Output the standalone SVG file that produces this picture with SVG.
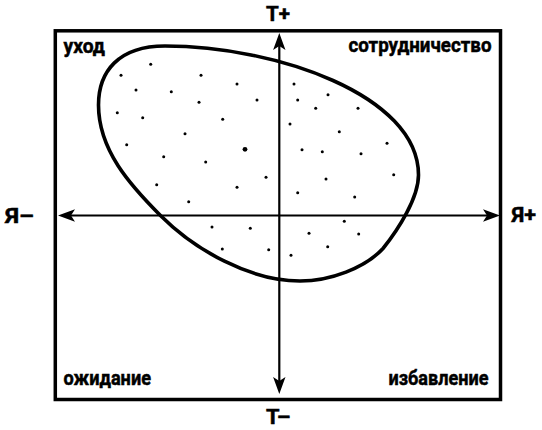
<svg xmlns="http://www.w3.org/2000/svg" width="542" height="430" viewBox="0 0 542 430">
  <style>
    .lbl { font-family: Roboto, "Liberation Sans", "DejaVu Sans", sans-serif; font-weight: 700; font-size: 21px; fill: #000; stroke: #000; stroke-width: 0.5; }
    .frame { fill: none; stroke: #000; stroke-width: 3.5; }
    .axis { fill: none; stroke: #000; stroke-width: 2.2; }
    .egg { fill: none; stroke: #000; stroke-width: 3.6; }
    .dot { fill: #000; }
  </style>
  <defs>
    <marker id="arrow" markerUnits="userSpaceOnUse" markerWidth="30" markerHeight="20" refX="0" refY="0" viewBox="-10 -10 30 20" orient="auto-start-reverse" overflow="visible">
      <path d="M10,0 L-7,-6.2 L-3,0 L-7,6.2 Z" fill="#000"/>
    </marker>
  </defs>
  <rect width="542" height="430" fill="#fff"/>

  <g id="frame">
    <rect class="frame" x="55.3" y="30.8" width="445.2" height="368.7"/>
  </g>

  <g id="connectors">
    <line class="axis" x1="68" y1="215.5" x2="490" y2="215.5" marker-start="url(#arrow)" marker-end="url(#arrow)"/>
    <line class="axis" x1="279.3" y1="43" x2="279.3" y2="384" marker-start="url(#arrow)" marker-end="url(#arrow)"/>
  </g>

  <g id="region">
    <path class="egg" d="M98.5,105 C98.5,72 118,46 165,46 C275,46 418.5,95 418.5,175 C418.5,198 398,230 383,248.5 C365,268 330,281 300,281 C250,281 195,250 160.7,215.7 C130,185 98.5,150 98.5,105 Z"/>
  </g>

  <g id="dots">
    <circle class="dot" cx="150.7" cy="64.3" r="1.5"/>
    <circle class="dot" cx="121" cy="75.3" r="1.5"/>
    <circle class="dot" cx="201" cy="75.3" r="1.5"/>
    <circle class="dot" cx="237" cy="84" r="1.5"/>
    <circle class="dot" cx="294" cy="84" r="1.5"/>
    <circle class="dot" cx="136" cy="90" r="1.5"/>
    <circle class="dot" cx="171.3" cy="91.7" r="1.5"/>
    <circle class="dot" cx="199" cy="102.3" r="1.5"/>
    <circle class="dot" cx="257" cy="100" r="1.5"/>
    <circle class="dot" cx="297.7" cy="100" r="1.5"/>
    <circle class="dot" cx="117.3" cy="112.7" r="1.5"/>
    <circle class="dot" cx="142.7" cy="117.7" r="1.5"/>
    <circle class="dot" cx="222.7" cy="119.3" r="1.5"/>
    <circle class="dot" cx="290" cy="124" r="1.5"/>
    <circle class="dot" cx="185" cy="133.7" r="1.5"/>
    <circle class="dot" cx="126.7" cy="144.7" r="1.5"/>
    <circle class="dot" cx="245" cy="149.3" r="2.4"/>
    <circle class="dot" cx="163.7" cy="156.7" r="1.5"/>
    <circle class="dot" cx="205.7" cy="162" r="1.5"/>
    <circle class="dot" cx="266" cy="177.3" r="1.5"/>
    <circle class="dot" cx="156.7" cy="184.7" r="1.5"/>
    <circle class="dot" cx="237" cy="187.3" r="1.5"/>
    <circle class="dot" cx="297.7" cy="192.7" r="1.5"/>
    <circle class="dot" cx="188.7" cy="201.7" r="1.5"/>
    <circle class="dot" cx="328" cy="94.7" r="1.5"/>
    <circle class="dot" cx="315.7" cy="108.3" r="1.5"/>
    <circle class="dot" cx="358" cy="108.3" r="1.5"/>
    <circle class="dot" cx="339.3" cy="131.7" r="1.5"/>
    <circle class="dot" cx="387" cy="143.3" r="1.5"/>
    <circle class="dot" cx="302" cy="149.7" r="1.5"/>
    <circle class="dot" cx="322.3" cy="151.7" r="1.5"/>
    <circle class="dot" cx="361" cy="153.7" r="1.5"/>
    <circle class="dot" cx="393.7" cy="174.7" r="1.5"/>
    <circle class="dot" cx="326" cy="179" r="1.5"/>
    <circle class="dot" cx="354.7" cy="197" r="1.5"/>
    <circle class="dot" cx="212" cy="227" r="1.5"/>
    <circle class="dot" cx="250.3" cy="228.3" r="1.5"/>
    <circle class="dot" cx="344.3" cy="221.3" r="1.5"/>
    <circle class="dot" cx="309" cy="233.3" r="1.5"/>
    <circle class="dot" cx="358.7" cy="234" r="1.5"/>
    <circle class="dot" cx="222.3" cy="249" r="1.5"/>
    <circle class="dot" cx="268.7" cy="249.7" r="1.5"/>
    <circle class="dot" cx="327.7" cy="246.7" r="1.5"/>
    <circle class="dot" cx="291" cy="255.3" r="1.5"/>
  </g>

  <g id="axis-labels">
    <text class="lbl" x="266" y="20.5" textLength="24" lengthAdjust="spacingAndGlyphs">Т+</text>
    <text class="lbl" x="266" y="424" textLength="24.5" lengthAdjust="spacingAndGlyphs">Т–</text>
    <text class="lbl" x="5" y="222.5" textLength="29" lengthAdjust="spacingAndGlyphs">Я–</text>
    <text class="lbl" x="511.5" y="222" textLength="24.5" lengthAdjust="spacingAndGlyphs">Я+</text>
  </g>

  <g id="quadrant-labels">
    <text class="lbl" x="63.5" y="53" textLength="41.5" lengthAdjust="spacingAndGlyphs">уход</text>
    <text class="lbl" x="348.5" y="52" textLength="143" lengthAdjust="spacingAndGlyphs">сотрудничество</text>
    <text class="lbl" x="63.5" y="385" textLength="87.5" lengthAdjust="spacingAndGlyphs">ожидание</text>
    <text class="lbl" x="388.5" y="385" textLength="100" lengthAdjust="spacingAndGlyphs">избавление</text>
  </g>
</svg>
